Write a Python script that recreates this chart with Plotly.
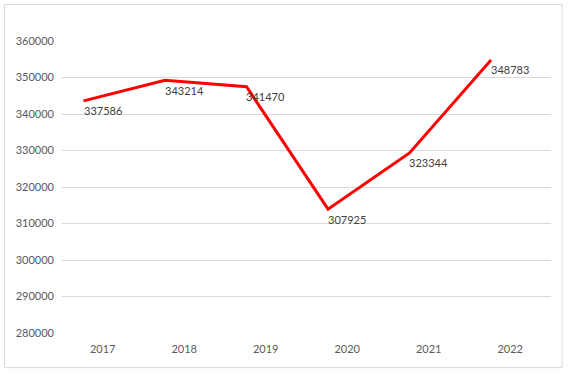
import plotly.graph_objects as go

years = ["2017", "2018", "2019", "2020", "2021", "2022"]
values = [337586, 343214, 341470, 307925, 323344, 348783]
y_ticks = [280000, 290000, 300000, 310000, 320000, 330000, 340000, 350000, 360000]

idx = list(range(len(years)))
label_font = dict(family="Lato, Open Sans, sans-serif", size=11, color="#404040")
axis_font = dict(family="Lato, Open Sans, sans-serif", size=11, color="#595959")

fig = go.Figure()

# the drawn line sits on a second, offset scale (as in the reference picture)
fig.add_trace(go.Scatter(
    x=idx, y=values, mode="lines",
    line=dict(color="#FF0000", width=3),
    xaxis="x2", yaxis="y2", hoverinfo="skip", showlegend=False,
))

# invisible anchor for primary axes
fig.add_trace(go.Scatter(x=idx, y=values, mode="markers",
                         marker=dict(opacity=0), showlegend=False, hoverinfo="skip"))

for i, v in zip(idx, values):
    fig.add_annotation(x=i, y=v, xref="x", yref="y", text=str(v),
                       showarrow=False, yshift=12, xanchor="center",
                       yanchor="middle", font=label_font)

fig.update_layout(
    width=569, height=375,
    margin=dict(l=62, r=18, t=41, b=42),
    paper_bgcolor="white", plot_bgcolor="white",
    showlegend=False,
    xaxis=dict(range=[-0.5, 5.5], tickmode="array", tickvals=idx, ticktext=years,
               showgrid=False, zeroline=False, showline=False, ticks="",
               tickfont=axis_font, ticklabelstandoff=8, fixedrange=True),
    yaxis=dict(range=[280000, 360000], tickmode="array", tickvals=y_ticks,
               ticktext=[str(t) for t in y_ticks],
               showgrid=True, gridcolor="#D9D9D9", gridwidth=1,
               zeroline=False, showline=False, ticks="",
               tickfont=axis_font, ticklabelstandoff=7, fixedrange=True),
    xaxis2=dict(range=[-0.264, 5.736], overlaying="x", visible=False, fixedrange=True),
    yaxis2=dict(range=[274000, 354000], overlaying="y", visible=False, fixedrange=True),
    shapes=[dict(type="rect", xref="paper", yref="paper",
                 x0=-0.1176, x1=1.0225, y0=-0.1186, y1=1.125,
                 line=dict(color="#D9D9D9", width=1), layer="below")],
)

fig.write_html("out.html", config={"displayModeBar": False},
               post_script="document.body.style.margin='0';document.body.style.overflow='hidden';")
